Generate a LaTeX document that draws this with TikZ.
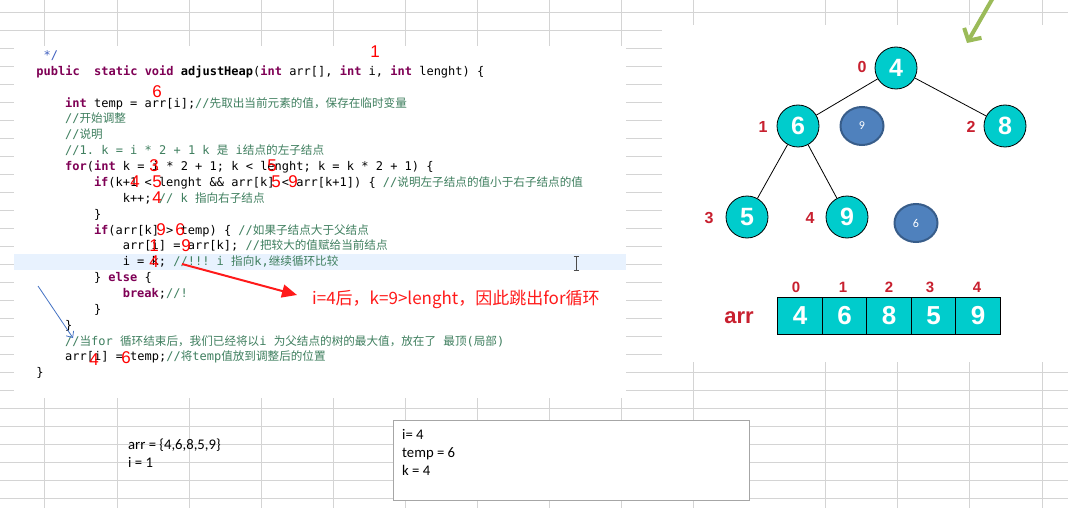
\documentclass[tikz,border=0pt]{standalone}
\usepackage{fontspec}
\setmainfont{Liberation Sans}
\setmonofont{DejaVu Sans Mono}
\newfontfamily\zhfont{Noto Sans CJK SC}
\newfontfamily\calfont{Carlito}
\usetikzlibrary{arrows.meta,shapes.geometric}
\definecolor{gridGray}{HTML}{D4D4D4}
\definecolor{kwPurple}{HTML}{7F0055}
\definecolor{cmGreen}{HTML}{3F7F5F}
\definecolor{docBlue}{HTML}{3F5FBF}
\definecolor{lineHi}{HTML}{E8F2FE}
\definecolor{heapTeal}{HTML}{00CCCC}
\definecolor{idxRed}{HTML}{C8202F}
\definecolor{swapBlue}{HTML}{4F81BD}
\definecolor{swapEdge}{HTML}{385D8A}
\definecolor{noteRed}{HTML}{FF1A1A}
\definecolor{hintGreen}{HTML}{9BBB59}
\definecolor{hintBlue}{HTML}{4472C4}
\definecolor{boxGray}{HTML}{A6A6A6}
\newcommand{\kw}[1]{\textcolor{kwPurple}{\bfseries #1}}
\newcommand{\cm}[1]{\textcolor{cmGreen}{#1}}
\newcommand{\zh}[1]{{\zhfont\fontsize{11.6}{14}\selectfont #1}}

\begin{document}
\begin{tikzpicture}[x=1pt, y=-1pt,
          gridline/.style={draw=gridGray, line width=0.8pt},
          code/.style={anchor=base west, inner sep=0pt, font=\ttfamily\fontsize{12}{14}\selectfont},
          redmark/.style={text=red, inner sep=0pt, font=\fontsize{17}{17}\selectfont},
          heapnode/.style={circle, draw=black, line width=0.8pt, fill=heapTeal, text=white, minimum size=42pt, inner sep=0pt, font=\bfseries\fontsize{25}{25}\selectfont},
          swapnode/.style={ellipse, draw=swapEdge, line width=2pt, fill=swapBlue, text=white, minimum width=43pt, minimum height=38pt, inner sep=0pt, font=\calfont\fontsize{12}{12}\selectfont},
          idx/.style={text=idxRed, inner sep=0pt, font=\bfseries\fontsize{16}{16}\selectfont},
          cell/.style={draw=black, line width=0.8pt, fill=heapTeal, text=white, minimum width=44.5pt, minimum height=37pt, inner sep=0pt, font=\bfseries\fontsize{26}{26}\selectfont},
          stepbox/.style={draw=boxGray, line width=0.8pt, fill=white, inner sep=0pt},
          sheettext/.style={anchor=base west, inner sep=0pt, font=\calfont\fontsize{14.7}{18}\selectfont}]
  \useasboundingbox (0,0) rectangle (1068,508);
  % sheet grid
  \foreach \gx in {44,117,189,261,333,405,477,549,621,693,825,897,969,1042}
    \draw[gridline] (\gx,0) -- (\gx,508);
  \foreach \gy in {12,30,...,498}
    \draw[gridline] (0,\gy) -- (1068,\gy);
  \fill[white] (14,46) rectangle (626,398);
  \fill[white] (662,25) rectangle (1068,362);
  \fill[lineHi] (14,254) rectangle (626,270);

  % code
  \node[code] (cl0) at (43.4,59.7) {\textcolor{docBlue}{*/}};
  \node[code] (cl1) at (36.2,75.5) {\kw{public}\ \ \kw{static} \kw{void} \textbf{adjustHeap}(\kw{int} arr[], \kw{int} i, \kw{int} lenght) \{};
  \node[code] (cl2) at (65,107.2) {\kw{int} temp = arr[i];\cm{//\zh{先取出当前元素的值，保存在临时变量}}};
  \node[code] (cl3) at (65,123) {\cm{//\zh{开始调整}}};
  \node[code] (cl4) at (65,138.9) {\cm{//\zh{说明}}};
  \node[code] (cl5) at (65,154.8) {\cm{//1. k = i * 2 + 1 k \zh{是} i\zh{结点的左子结点}}};
  \node[code] (cl6) at (65,170.6) {\kw{for}(\kw{int} k = i * 2 + 1; k < lenght; k = k * 2 + 1) \{};
  \node[code] (cl7) at (93.8,186.5) {\kw{if}(k+1 < lenght \&\& arr[k] < arr[k+1]) \{ \cm{//\zh{说明左子结点的值小于右子结点的值}}};
  \node[code] (cl8) at (122.6,202.3) {k++; \cm{// k \zh{指向右子结点}}};
  \node[code] (cl9) at (93.8,218.2) {\}};
  \node[code] (cl10) at (93.8,234.1) {\kw{if}(arr[k] > temp) \{ \cm{//\zh{如果子结点大于父结点}}};
  \node[code] (cl11) at (122.6,249.9) {arr[i] = arr[k]; \cm{//\zh{把较大的值赋给当前结点}}};
  \node[code] (cl12) at (122.6,265.8) {i = k; \cm{//!!! i \zh{指向}k,\zh{继续循环比较}}};
  \node[code] (cl13) at (93.8,281.6) {\} \kw{else} \{};
  \node[code] (cl14) at (122.6,297.5) {\kw{break};\cm{//!}};
  \node[code] (cl15) at (93.8,313.3) {\}};
  \node[code] (cl16) at (65,329.2) {\}};
  \node[code] (cl17) at (65,345.1) {\cm{//\zh{当}for \zh{循环结束后，我们已经将以}i \zh{为父结点的树的最大值，放在了} \zh{最顶}(\zh{局部})}};
  \node[code] (cl18) at (65,360.9) {arr[i] = temp;\cm{//\zh{将}temp\zh{值放到调整后的位置}}};
  \node[code] (cl19) at (36.2,376.8) {\}};
  % text cursor
  \draw[black!70, line width=0.8pt] (573.5,256) -- (578.5,256) (576,256) -- (576,270) (573.5,270) -- (578.5,270);

  % handwritten values
  \foreach \mx/\my/\md [count=\mi] in {375/52/1, 157/92/6, 154/166/3, 272/166/5, 135/182/4, 157/182/5,
      276/182/5, 293/182/9, 157/198/4, 161/230/9, 180/230/6, 154/246/1, 186/246/9, 154/262/4, 94/360/4, 126/358/6}
    \node[redmark] (mark\mi) at (\mx,\my) {\md};
  \node[anchor=west, inner sep=0pt, text=noteRed, font=\zhfont\fontsize{17}{17}\selectfont] (note) at (312,299) {i=4后，k=9>lenght，因此跳出for循环};
  \coordinate (redtail) at (182,264);
  \coordinate (redtip) at (297,295);
  \draw[noteRed, line width=2pt, -{Triangle[length=15pt,width=13pt]}] (redtail) -- (redtip);
  \coordinate (bluetail) at (38,286);
  \coordinate (bluetip) at (73,338);
  \draw[hintBlue, line width=0.8pt, -{Straight Barb[length=5pt,width=9pt]}] (bluetail) -- (bluetip);

  % heap tree
  \node[heapnode] (n0) at (896,68) {4};
  \node[heapnode] (n1) at (798,126) {6};
  \node[heapnode] (n2) at (1005,126) {8};
  \node[heapnode] (n3) at (747,217) {5};
  \node[heapnode] (n4) at (847,217) {9};
  \draw[line width=0.8pt] (n0) -- (n1) (n0) -- (n2) (n1) -- (n3) (n1) -- (n4);
  \node[idx] (t0) at (862,67) {0};
  \node[idx] (t1) at (763,127) {1};
  \node[idx] (t2) at (971,127) {2};
  \node[idx] (t3) at (709,218) {3};
  \node[idx] (t4) at (810,218) {4};
  \node[swapnode] (s9) at (862,126) {9};
  \node[swapnode] (s6) at (916,223) {6};
  \coordinate (greentail) at (994,-4);
  \coordinate (greentip) at (967,43);
  \draw[hintGreen, line width=4pt, -{Straight Barb[length=9pt,width=20pt]}] (greentail) -- (greentip);

  % array
  \node[text=idxRed, inner sep=0pt, font=\bfseries\fontsize{22}{22}\selectfont] (arrname) at (739,318) {arr};
  \foreach \v [count=\c from 0] in {4,6,8,5,9}
    \node[cell] (cell\c) at ({800+44.5*\c},315.5) {\v};
  \foreach \ix/\d in {796/0, 843/1, 889/2, 930/3, 977/4}
    \node[idx, font=\bfseries\fontsize{15}{15}\selectfont] (ci\d) at (\ix,287) {\d};

  % sheet notes
  \node[sheettext] (initarr) at (128,449.5) {arr = \{4,6,8,5,9\}};
  \node[sheettext] (initi) at (128,467.5) {i = 1};
  \node[stepbox, anchor=north west, minimum width=356pt, minimum height=80pt] (box) at (393,420) {};
  \node[sheettext] (stepi) at (402,439.5) {i= 4};
  \node[sheettext] (steptemp) at (402,457.5) {temp = 6};
  \node[sheettext] (stepk) at (402,475.5) {k = 4};
\end{tikzpicture}
\end{document}
